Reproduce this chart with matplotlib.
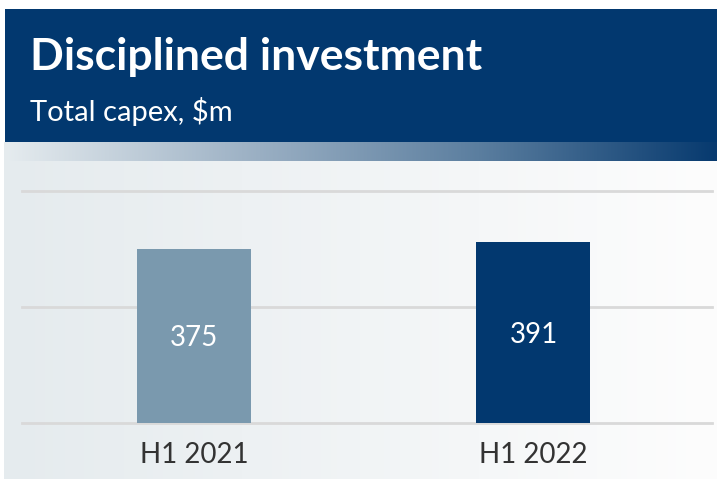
import numpy as np
import matplotlib.pyplot as plt
from matplotlib.colors import LinearSegmentedColormap

categories = ["H1 2021", "H1 2022"]
capex = [375, 391]
bar_colors = ["#7a99ae", "#02386f"]
title = "Disciplined investment"
subtitle = "Total capex, $m"

W, H = 717, 479
NAVY = "#02386f"

fig = plt.figure(figsize=(W / 100, H / 100), dpi=100)
fig.patch.set_facecolor("white")

# background layer in pixel coordinates (y down)
bg = fig.add_axes((0, 0, 1, 1))
bg.set_xlim(0, W)
bg.set_ylim(H, 0)
bg.axis("off")

ramp = np.linspace(0, 1, 256).reshape(1, -1)
strip_cmap = LinearSegmentedColormap.from_list("strip", ["#e6ecef", "#9fb3c6", "#5b7e9f", "#073a6f"])
back_cmap = LinearSegmentedColormap.from_list("back", ["#e5ebee", "#fdfdfd"])

bg.imshow(ramp, cmap=back_cmap, extent=(4, W, H, 160), aspect="auto", interpolation="bicubic")
bg.imshow(ramp, cmap=strip_cmap, extent=(4, W, 161, 142), aspect="auto", interpolation="bicubic")
bg.add_patch(plt.Rectangle((5, 9), W - 5, 133, color=NAVY, lw=0))

bg.text(30, 57, title, color="white", fontsize=32, fontweight="bold",
        family="Lato", va="center", ha="left")
bg.text(30, 111, subtitle, color="white", fontsize=21,
        family="Lato", va="center", ha="left")

# chart axes: baseline at y=423 px, 500 at y=191 px
left, right = 22, 712
bottom, top = 423, 191
ax = fig.add_axes((left / W, (H - bottom) / H, (right - left) / W, (bottom - top) / H))
ax.patch.set_visible(False)
ax.set_ylim(0, 500)
ax.set_xlim(-0.507, 1.526)
for s in ax.spines.values():
    s.set_visible(False)

for yv in (0, 250, 500):
    ax.axhline(yv, color="#d9d9d9", lw=2, zorder=1, clip_on=False)

x = np.arange(len(categories))
bars = ax.bar(x, capex, width=0.336, color=bar_colors, zorder=2)
for b, v in zip(bars, capex):
    ax.text(b.get_x() + b.get_width() / 2, v / 2, str(v), color="white",
            fontsize=20, family="Lato", ha="center", va="center_baseline", zorder=3)

ax.set_yticks([])
ax.set_xticks(x)
ax.set_xticklabels(categories, fontsize=20, family="Lato", color="#333333")
ax.tick_params(axis="x", length=0, pad=14)

fig.savefig("out.png", dpi=100)
